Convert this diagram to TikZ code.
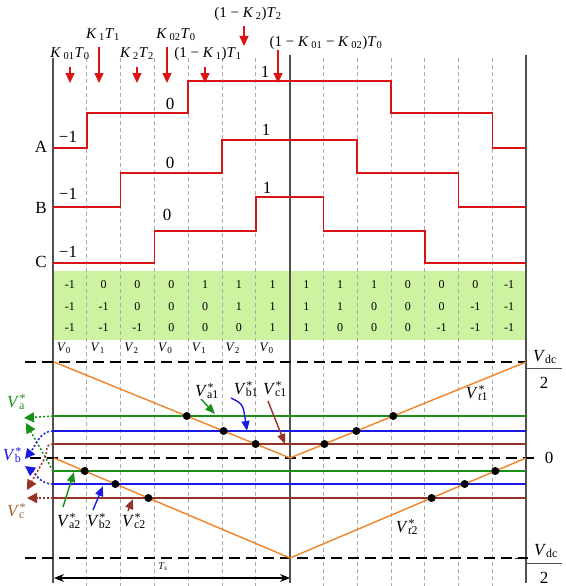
\documentclass[tikz,border=0pt]{standalone}
\usepackage{fontspec}
\setmainfont{Liberation Serif}
\usetikzlibrary{arrows.meta,calc}
\definecolor{wred}{RGB}{218,20,20}
\definecolor{tgreen}{RGB}{25,145,25}
\definecolor{tblue}{RGB}{25,25,225}
\definecolor{tbrown}{RGB}{150,50,40}
\definecolor{lbrown}{RGB}{165,95,45}
\definecolor{torange}{RGB}{240,130,40}
\definecolor{tbg}{RGB}{205,242,160}
\definecolor{axgray}{RGB}{80,80,80}
\definecolor{dgray}{RGB}{170,170,170}
\newcommand{\sbs}[1]{\textsubscript{#1}}
\newcommand{\Vst}[1]{\textit{V}\rlap{\hspace{0.5pt}\raisebox{5pt}{\fontsize{12}{12}\selectfont *}}\textsubscript{#1}}
\tikzset{
  wave/.style={wred, line width=1.6pt},
  timearrow/.style={wred, line width=1.4pt, -{Triangle[length=10pt,width=9pt]}},
  axisline/.style={axgray, line width=1.3pt},
  gridline/.style={dgray, line width=0.7pt, dash pattern=on 4pt off 3pt},
  levelline/.style={black, line width=1.6pt, dash pattern=on 11pt off 6pt},
  refline/.style={line width=1.3pt},
  carrier/.style={torange, line width=1.4pt},
  dotmark/.style={circle, fill=black, inner sep=0pt, minimum size=8pt},
  dotarrow/.style={line width=1.5pt, dash pattern=on 2pt off 2pt, -{Triangle[length=10pt,width=10pt]}},
  labarrow/.style={line width=1.4pt, -{Triangle[length=10pt,width=8pt]}},
  big/.style={inner sep=0pt, font=\fontsize{17}{17}\selectfont},
  mid/.style={inner sep=0pt, font=\fontsize{15}{15}\selectfont},
  tab/.style={inner sep=0pt, font=\fontsize{12}{12}\selectfont},
  vtab/.style={inner sep=0pt, font=\fontsize{13}{13}\selectfont},
  small/.style={inner sep=0pt, font=\fontsize{10}{10}\selectfont}
}
\begin{document}
\begin{tikzpicture}[x=1pt,y=-1pt]
\useasboundingbox (0,0) rectangle (565,586);
% table background
\fill[tbg] (53,271) rectangle (526,340);
% grid lines
\foreach \i in {1,2,3,4,5,6,8,9,10,11,12,13}
  \draw[gridline] ({53+33.79*\i},58) -- ({53+33.79*\i},586);
% axes
\draw[axisline] (53,58) -- (53,583);
\draw[axisline] (290,55) -- (290,583);
\draw[axisline] (526,55) -- (526,583);
% waveforms
\draw[wave] (53,148) -- (86.8,148) -- (86.8,113) -- (188.2,113) -- (188.2,81) -- (390.9,81) -- (390.9,113) -- (492.3,113) -- (492.3,148) -- (526,148);
\draw[wave] (53,207) -- (120.6,207) -- (120.6,173) -- (222,173) -- (222,140) -- (357.1,140) -- (357.1,173) -- (458.5,173) -- (458.5,207) -- (526,207);
\draw[wave] (53,263) -- (154.4,263) -- (154.4,231) -- (255.7,231) -- (255.7,197) -- (323.3,197) -- (323.3,231) -- (424.7,231) -- (424.7,263) -- (526,263);
% wave labels
\node[big] (lA) at (41,147) {A};
\node[big] (lB) at (41,208) {B};
\node[big] (lC) at (41,262) {C};
\node[big] (mA) at (68,137) {−1};
\node[big] (mB) at (68,194) {−1};
\node[big] (mC) at (68,252) {−1};
\node[big] (zA) at (170,104) {0};
\node[big] (zB) at (170,163) {0};
\node[big] (zC) at (167,215) {0};
\node[big] (oA) at (265,72) {1};
\node[big] (oB) at (266,130) {1};
\node[big] (oC) at (267,188) {1};
% top time labels and arrows
\node[mid] (k01) at (70,54) {\textit{K}\,\sbs{01}\textit{T}\sbs{0}};
\node[mid] (k1) at (103,35) {\textit{K}\,\sbs{1}\textit{T}\sbs{1}};
\node[mid] (k2) at (137,54) {\textit{K}\,\sbs{2}\textit{T}\sbs{2}};
\node[mid] (k02) at (176,35) {\textit{K}\,\sbs{02}\textit{T}\sbs{0}};
\node[mid] (mk1) at (208,54) {(1 − \textit{K}\,\sbs{1})\textit{T}\sbs{1}};
\node[mid] (mk2) at (248,14) {(1 − \textit{K}\,\sbs{2})\textit{T}\sbs{2}};
\node[mid] (mk0) at (326,43) {(1 − \textit{K}\,\sbs{01} − \textit{K}\,\sbs{02})\textit{T}\sbs{0}};
\coordinate (a1s) at (70,67);  \coordinate (a1e) at (70,83);
\coordinate (a2s) at (99,47);  \coordinate (a2e) at (99,83);
\coordinate (a3s) at (137,67); \coordinate (a3e) at (137,83);
\coordinate (a4s) at (167,47); \coordinate (a4e) at (167,83);
\coordinate (a5s) at (205,67); \coordinate (a5e) at (205,83);
\coordinate (a6s) at (244,26); \coordinate (a6e) at (244,46);
\coordinate (a7s) at (278,50); \coordinate (a7e) at (278,83);
\draw[timearrow] (a1s) -- (a1e);
\draw[timearrow] (a2s) -- (a2e);
\draw[timearrow] (a3s) -- (a3e);
\draw[timearrow] (a4s) -- (a4e);
\draw[timearrow] (a5s) -- (a5e);
\draw[timearrow] (a6s) -- (a6e);
\draw[timearrow] (a7s) -- (a7e);
% table values
\foreach \y/\vals in {285/{-1,0,0,0,1,1,1,1,1,1,0,0,0,-1},
                      307/{-1,-1,0,0,0,1,1,1,1,0,0,0,-1,-1},
                      328/{-1,-1,-1,0,0,0,1,1,0,0,0,-1,-1,-1}}{
  \foreach \v [count=\c from 0] in \vals
    \node[tab] (t\y-\c) at ({53+33.79*(\c+0.5)},\y) {\v};
}
\foreach \s [count=\c from 0] in {0,1,2,0,1,2,0}
  \node[vtab] (vs\c) at ({53+33.79*(\c+0.5)-6},348) {\textit{V}\sbs{\s}};
% level lines
\draw[levelline] (25,362) -- (526,362);
\draw[levelline] (30,458) -- (537,458);
\draw[levelline] (25,558) -- (528,558);
% reference lines
\draw[refline, tgreen] (53,416) -- (526,416);
\draw[refline, tblue] (53,431) -- (526,431);
\draw[refline, tbrown] (53,444) -- (526,444);
\draw[refline, tgreen] (53,471) -- (526,471);
\draw[refline, tblue] (53,484) -- (526,484);
\draw[refline, tbrown] (53,498) -- (526,498);
% carriers
\coordinate (T1) at (54,362); \coordinate (M1) at (290,458); \coordinate (R1) at (526,362);
\coordinate (T2) at (54,458); \coordinate (M2) at (290,558); \coordinate (R2) at (526,458);
\draw[carrier] (T1) -- (M1) -- (R1);
\draw[carrier] (T2) -- (M2) -- (R2);
% intersection dots
\node[dotmark] (d1) at ($(T1)!0.5625!(M1)$) {};
\node[dotmark] (d2) at ($(T1)!0.71875!(M1)$) {};
\node[dotmark] (d3) at ($(T1)!0.8542!(M1)$) {};
\node[dotmark] (d4) at ($(R1)!0.5625!(M1)$) {};
\node[dotmark] (d5) at ($(R1)!0.71875!(M1)$) {};
\node[dotmark] (d6) at ($(R1)!0.8542!(M1)$) {};
\node[dotmark] (d7) at ($(T2)!0.13!(M2)$) {};
\node[dotmark] (d8) at ($(T2)!0.26!(M2)$) {};
\node[dotmark] (d9) at ($(T2)!0.40!(M2)$) {};
\node[dotmark] (d10) at ($(R2)!0.13!(M2)$) {};
\node[dotmark] (d11) at ($(R2)!0.26!(M2)$) {};
\node[dotmark] (d12) at ($(R2)!0.40!(M2)$) {};
% right labels
\node[big] (vdt) at (545,357) {\textit{V}\sbs{dc}};
\node[big] (vdt2) at (544,383) {2};
\draw[line width=1pt, axgray] (527,368) -- (562,368);
\node[big] (zr) at (549,458) {0};
\node[big] (mb) at (519,561) {−};
\node[big] (vdb) at (546,551) {\textit{V}\sbs{dc}};
\node[big] (vdb2) at (544,578) {2};
\draw[line width=1pt, axgray] (527,563) -- (562,563);
\node[big] (vt1) at (477,393) {\Vst{\textit{t}1}};
\node[big] (vt2) at (407,527) {\Vst{\textit{t}2}};
% left reference labels and dotted arrows
\node[big, text=tgreen] (Va) at (16,402) {\Vst{a}};
\node[big, text=tblue] (Vb) at (12,455) {\Vst{b}};
\node[big, text=lbrown] (Vc) at (16,511) {\Vst{c}};
\coordinate (gA) at (53,416); \coordinate (gB) at (53,471);
\coordinate (bA) at (53,431); \coordinate (bB) at (53,484);
\coordinate (rA) at (53,444); \coordinate (rB) at (53,498);
\coordinate (gAt) at (24,418); \coordinate (gBt) at (26,423);
\coordinate (bAt) at (25,459); \coordinate (bBt) at (25,466);
\coordinate (rAt) at (27,490); \coordinate (rBt) at (27,498);
\draw[dotarrow, tgreen] (gA) -- (gAt);
\draw[dotarrow, tgreen] (gB) -- (gBt);
\draw[dotarrow, tblue] (bA) .. controls (40,431) and (36,445) .. (bAt);
\draw[dotarrow, tblue] (bB) .. controls (40,484) and (36,474) .. (bBt);
\draw[dotarrow, tbrown] (rA) .. controls (47,445) .. (46,456) -- (rAt);
\draw[dotarrow, tbrown] (rB) -- (rBt);
% intersection labels
\node[big] (Va1) at (207,391) {\Vst{a1}};
\node[big] (Vb1) at (246,389) {\Vst{b1}};
\node[big] (Vc1) at (275,389) {\Vst{c1}};
\node[big] (Va2) at (69,521) {\Vst{a2}};
\node[big] (Vb2) at (99,521) {\Vst{b2}};
\node[big] (Vc2) at (134,521) {\Vst{c2}};
\coordinate (pa1) at (201,399); \coordinate (qa1) at (215,414);
\coordinate (pb1) at (231,398); \coordinate (qb1) at (247,431);
\coordinate (pc1) at (268,401); \coordinate (qc1) at (285,444);
\coordinate (pa2) at (63,507);  \coordinate (qa2) at (74,472);
\coordinate (pb2) at (93,510);  \coordinate (qb2) at (103,486);
\coordinate (pc2) at (128,511); \coordinate (qc2) at (133,499);
\draw[labarrow, tgreen] (pa1) -- (qa1);
\draw[labarrow, tblue] (pb1) .. controls (243,404) .. (qb1);
\draw[labarrow, tbrown] (pc1) -- (qc1);
\draw[labarrow, tgreen] (pa2) -- (qa2);
\draw[labarrow, tblue] (pb2) -- (qb2);
\draw[labarrow, tbrown] (pc2) -- (qc2);
% Ts
\coordinate (tsL) at (54,578); \coordinate (tsR) at (290,578);
\draw[line width=1.2pt, {Stealth[length=10pt,width=8pt]}-{Stealth[length=10pt,width=8pt]}] (tsL) -- (tsR);
\node[small] (Ts) at (163,567) {\textit{T}\sbs{\textit{s}}};
\end{tikzpicture}
\end{document}
